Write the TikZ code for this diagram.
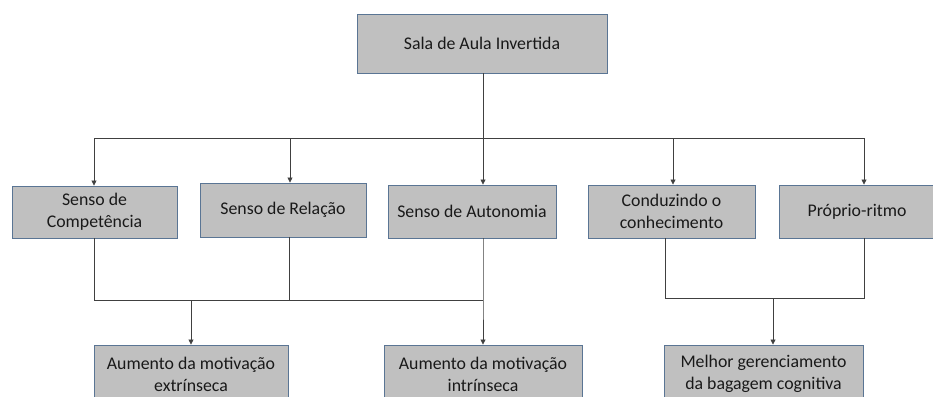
\documentclass[tikz,border=0pt]{standalone}
\usepackage{fontspec}
\setmainfont{Carlito}
\usetikzlibrary{arrows.meta}
\definecolor{boxfill}{HTML}{C0C0C0}
\definecolor{boxedge}{HTML}{5A7594}
\definecolor{linec}{HTML}{404040}
\tikzset{
  box/.style={draw=boxedge, fill=boxfill, line width=0.9pt, inner sep=0pt, align=center,
    font=\fontsize{17.8}{22}\selectfont, text=black!90},
  conn/.style={draw=linec, line width=0.8pt},
  arr/.style={conn, -{Triangle[width=5pt,length=5pt]}}
}
\begin{document}
\begin{tikzpicture}[x=1pt,y=-1pt]
\useasboundingbox (0,0) rectangle (933,396);
\begin{scope}
\clip (0,0) rectangle (933,396);
\node[box, minimum width=250pt, minimum height=59pt] (top) at (482,43.5) {Sala de Aula Invertida};

\node[box, minimum width=165pt, minimum height=52pt] (b1) at (94.5,212) {Senso de\\Competência};
\node[box, minimum width=166pt, minimum height=54pt] (b2) at (283,210) {Senso de Relação};
\node[box, minimum width=168pt, minimum height=53pt] (b3) at (472,211.5) {Senso de Autonomia};
\node[box, minimum width=167pt, minimum height=53pt] (b4) at (671.5,211.5) {Conduzindo o\\conhecimento};
\node[box, minimum width=156pt, minimum height=53pt] (b5) at (857,211.5) {Próprio-ritmo};

\node[box, minimum width=194pt, minimum height=58pt] (r1) at (191,374) {Aumento da motivação\\extrínseca};
\node[box, minimum width=198pt, minimum height=58pt] (r2) at (483,374) {Aumento da motivação\\intrínseca};
\node[box, minimum width=199pt, minimum height=58pt] (r3) at (763.5,374) {Melhor gerenciamento\\da bagagem cognitiva};
\end{scope}

% top distribution
\coordinate (tj) at (483,138);
\coordinate (tl) at (94,138);
\coordinate (tr) at (864,138);
\draw[conn] (top.south -| tj) -- (tj);
\draw[conn] (tl) -- (tr);
\draw[arr] (tl) -- (tl |- b1.north);
\draw[arr] (290,138) -- (290,0 |- b2.north);
\draw[arr] (tj) -- (tj |- b3.north);
\draw[arr] (673,138) -- (673,0 |- b4.north);
\draw[arr] (tr) -- (tr |- b5.north);

% left merge
\coordinate (m1) at (94,300);
\coordinate (m2) at (289,300);
\coordinate (m3) at (483,300);
\draw[conn] (m1 |- b1.south) -- (m1) -- (m3);
\draw[conn] (m2 |- b2.south) -- (m2);
\draw[arr] (m3 |- b3.south) -- (m3) -- (m3 |- r2.north);
\coordinate (ma) at (191,300);
\draw[arr] (ma) -- (ma |- r1.north);

% right merge
\coordinate (n1) at (665,298);
\coordinate (n2) at (864,298);
\draw[conn] (n1 |- b4.south) -- (n1) -- (n2) -- (n2 |- b5.south);
\coordinate (na) at (773,298);
\draw[arr] (na) -- (na |- r3.north);
\end{tikzpicture}
\end{document}
